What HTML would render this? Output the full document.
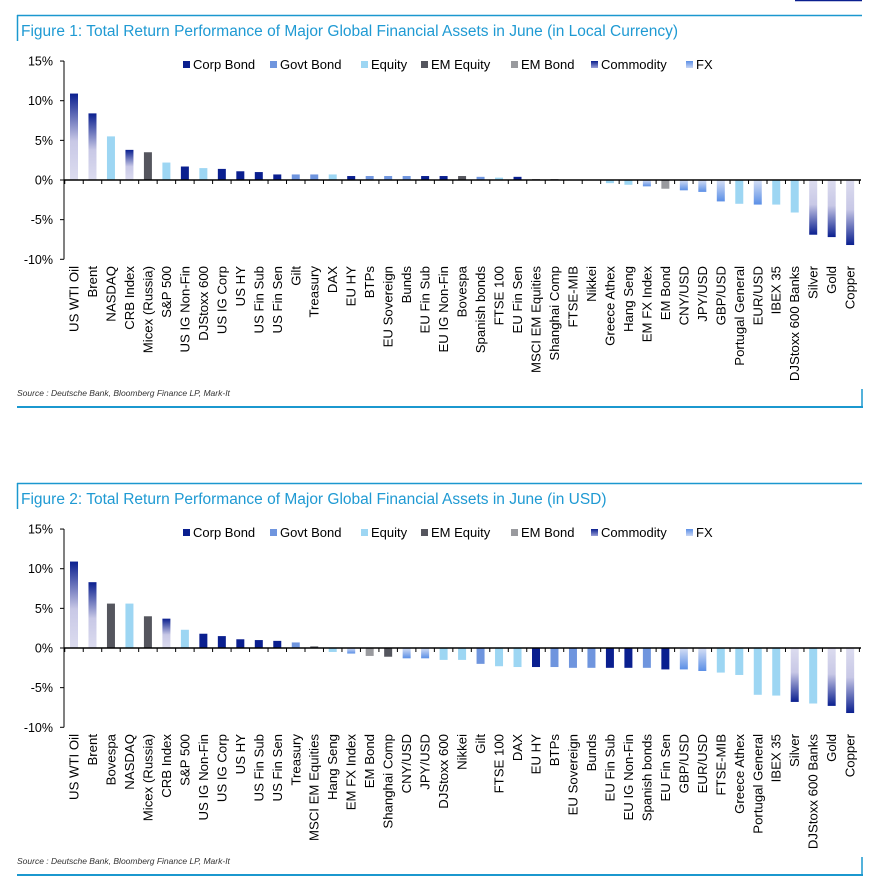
<!DOCTYPE html>
<html><head><meta charset="utf-8">
<style>
html,body{margin:0;padding:0;background:#fff;width:896px;height:883px;overflow:hidden}
svg{display:block}
text{font-family:"Liberation Sans",Arial,sans-serif}
</style></head>
<body>
<svg id="s" width="896" height="883" xmlns="http://www.w3.org/2000/svg">
<defs>
<linearGradient id="cp" x1="0" y1="1" x2="0" y2="0"><stop offset="0" stop-color="#dcdcef"/><stop offset="0.45" stop-color="#c8c8e6"/><stop offset="1" stop-color="#0a1f8f"/></linearGradient>
<linearGradient id="cn" x1="0" y1="0" x2="0" y2="1"><stop offset="0" stop-color="#dcdcef"/><stop offset="0.45" stop-color="#c8c8e6"/><stop offset="1" stop-color="#0a1f8f"/></linearGradient>
<linearGradient id="fn" x1="0" y1="0" x2="0" y2="1"><stop offset="0" stop-color="#d6dff5"/><stop offset="1" stop-color="#5b8fe6"/></linearGradient>
<linearGradient id="fp" x1="0" y1="1" x2="0" y2="0"><stop offset="0" stop-color="#d6dff5"/><stop offset="1" stop-color="#5b8fe6"/></linearGradient>
<linearGradient id="lc" x1="0" y1="1" x2="0" y2="0"><stop offset="0" stop-color="#9aa0d8"/><stop offset="1" stop-color="#0a1f8f"/></linearGradient>
<linearGradient id="lf" x1="0" y1="1" x2="0" y2="0"><stop offset="0" stop-color="#c8d6f5"/><stop offset="1" stop-color="#5b8fe6"/></linearGradient>
</defs>
<g id="g"></g>
</svg>
<script>
var C={c:'#0a1f8f',g:'#6f95de',e:'#9dd6f3',m:'#55565e',b:'#999a9e'};
var d1=[["US WTI Oil",10.9,"x"],["Brent",8.4,"x"],["NASDAQ",5.5,"e"],["CRB Index",3.8,"x"],["Micex (Russia)",3.5,"m"],["S&P 500",2.2,"e"],["US IG Non-Fin",1.7,"c"],["DJStoxx 600",1.5,"e"],["US IG Corp",1.4,"c"],["US HY",1.1,"c"],["US Fin Sub",1.0,"c"],["US Fin Sen",0.7,"c"],["Gilt",0.7,"g"],["Treasury",0.7,"g"],["DAX",0.7,"e"],["EU HY",0.5,"c"],["BTPs",0.5,"g"],["EU Sovereign",0.5,"g"],["Bunds",0.5,"g"],["EU Fin Sub",0.5,"c"],["EU IG Non-Fin",0.5,"c"],["Bovespa",0.5,"m"],["Spanish bonds",0.4,"g"],["FTSE 100",0.3,"e"],["EU Fin Sen",0.4,"c"],["MSCI EM Equities",0.1,"m"],["Shanghai Comp",0.1,"m"],["FTSE-MIB",0.05,"e"],["Nikkei",0.03,"e"],["Greece Athex",-0.4,"e"],["Hang Seng",-0.6,"e"],["EM FX Index",-0.8,"f"],["EM Bond",-1.1,"b"],["CNY/USD",-1.3,"f"],["JPY/USD",-1.5,"f"],["GBP/USD",-2.7,"f"],["Portugal General",-3.0,"e"],["EUR/USD",-3.1,"f"],["IBEX 35",-3.1,"e"],["DJStoxx 600 Banks",-4.1,"e"],["Silver",-6.9,"x"],["Gold",-7.2,"x"],["Copper",-8.2,"x"]];
var d2=[["US WTI Oil",10.9,"x"],["Brent",8.3,"x"],["Bovespa",5.6,"m"],["NASDAQ",5.6,"e"],["Micex (Russia)",4.0,"m"],["CRB Index",3.7,"x"],["S&P 500",2.3,"e"],["US IG Non-Fin",1.8,"c"],["US IG Corp",1.5,"c"],["US HY",1.1,"c"],["US Fin Sub",1.0,"c"],["US Fin Sen",0.9,"c"],["Treasury",0.7,"g"],["MSCI EM Equities",0.2,"m"],["Hang Seng",-0.5,"e"],["EM FX Index",-0.7,"f"],["EM Bond",-1.0,"b"],["Shanghai Comp",-1.1,"m"],["CNY/USD",-1.3,"f"],["JPY/USD",-1.3,"f"],["DJStoxx 600",-1.5,"e"],["Nikkei",-1.5,"e"],["Gilt",-2.0,"g"],["FTSE 100",-2.3,"e"],["DAX",-2.4,"e"],["EU HY",-2.4,"c"],["BTPs",-2.4,"g"],["EU Sovereign",-2.5,"g"],["Bunds",-2.5,"g"],["EU Fin Sub",-2.5,"c"],["EU IG Non-Fin",-2.5,"c"],["Spanish bonds",-2.5,"g"],["EU Fin Sen",-2.7,"c"],["GBP/USD",-2.7,"f"],["EUR/USD",-2.9,"f"],["FTSE-MIB",-3.1,"e"],["Greece Athex",-3.4,"e"],["Portugal General",-5.9,"e"],["IBEX 35",-6.0,"e"],["Silver",-6.8,"x"],["DJStoxx 600 Banks",-7.0,"e"],["Gold",-7.3,"x"],["Copper",-8.2,"x"]];
var h='';
function esc(s){return s.replace(/&/g,'&amp;');}
function chart(top,d,title){
 var z=top+165, s=7.93, ax=64, x0=74, dx=18.48;
 h+='<line x1="17.5" y1="'+(top)+'" x2="17.5" y2="'+(top+26)+'" stroke="#1b98cf" stroke-width="1.5"/>';
 h+='<line x1="17" y1="'+(top+0.5)+'" x2="862" y2="'+(top+0.5)+'" stroke="#1b98cf" stroke-width="1.5"/>';
 h+='<text x="21" y="'+(top+21)+'" font-size="15.5" fill="#1f9ad3">'+title+'</text>';
 h+='<line x1="17" y1="'+(top+392)+'" x2="863" y2="'+(top+392)+'" stroke="#1b98cf" stroke-width="2"/>';
 h+='<line x1="862" y1="'+(top+374)+'" x2="862" y2="'+(top+392)+'" stroke="#1b98cf" stroke-width="1.5"/>';
 h+='<text x="17" y="'+(top+381)+'" font-size="8.5" font-style="italic" fill="#333">Source : Deutsche Bank, Bloomberg Finance LP, Mark-It</text>';
 var yt=z-15*s, yb=z+10*s;
 h+='<line x1="'+ax+'" y1="'+yt+'" x2="'+ax+'" y2="'+yb+'" stroke="#000" stroke-width="1"/>';
 [15,10,5,0,-5,-10].forEach(function(v){var y=z-v*s;
  h+='<line x1="'+(ax-4)+'" y1="'+y+'" x2="'+ax+'" y2="'+y+'" stroke="#000"/>';
  h+='<text x="53" y="'+(y+4.5)+'" font-size="12.5" text-anchor="end" fill="#000">'+v+'%</text>';});
 d.forEach(function(b,i){var cx=x0+i*dx, v=b[1], y=v>=0?z-v*s:z, ht=Math.abs(v)*s, f;
  if(b[2]=='x') f=v>=0?'url(#cp)':'url(#cn)'; else if(b[2]=='f') f=v>=0?'url(#fp)':'url(#fn)'; else f=C[b[2]];
  h+='<rect x="'+(cx-4)+'" y="'+y+'" width="8" height="'+Math.max(ht,0.5)+'" fill="'+f+'"/>';
  h+='<text transform="translate('+(cx+4.5)+','+(z+86)+') rotate(-90)" font-size="13.2" text-anchor="end" fill="#000">'+esc(b[0])+'</text>';
 });
 h+='<line x1="'+ax+'" y1="'+z+'" x2="861" y2="'+z+'" stroke="#000" stroke-width="1.5"/>';
 for(var i=0;i<=d.length;i++){var tx=x0-dx/2+i*dx; if(tx>861)tx=861;
  h+='<line x1="'+tx+'" y1="'+z+'" x2="'+tx+'" y2="'+(z+4)+'" stroke="#000"/>';}
 var ly=top+54, L=[[183,'#0a1f8f','Corp Bond'],[270,'#6f95de','Govt Bond'],[361,'#9dd6f3','Equity'],[421,'#55565e','EM Equity'],[511,'#999a9e','EM Bond'],[591,'url(#lc)','Commodity'],[686,'url(#lf)','FX']];
 L.forEach(function(l){h+='<rect x="'+l[0]+'" y="'+(ly-8)+'" width="7" height="7" fill="'+l[1]+'"/>';
  h+='<text x="'+(l[0]+10)+'" y="'+ly+'" font-size="13" fill="#000">'+l[2]+'</text>';});
}
h+='<line x1="795" y1="0.5" x2="862" y2="0.5" stroke="#0a1f8f" stroke-width="1.5"/>';
chart(15,d1,'Figure 1: Total Return Performance of Major Global Financial Assets in June (in Local Currency)');
chart(483,d2,'Figure 2: Total Return Performance of Major Global Financial Assets in June (in USD)');
document.getElementById('g').innerHTML=h;
</script>
</body></html>
